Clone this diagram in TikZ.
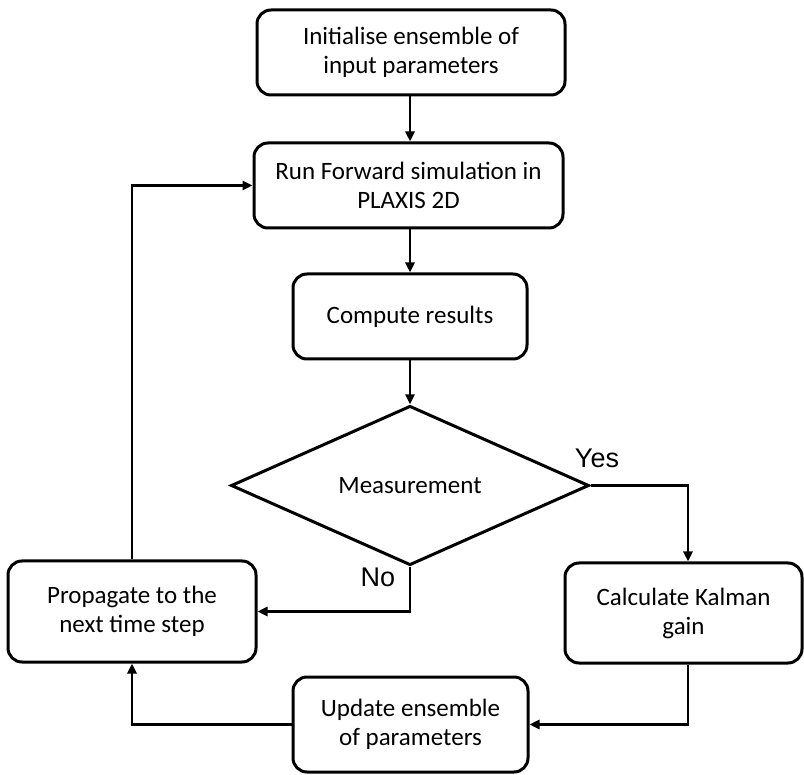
\documentclass[tikz,border=0pt]{standalone}
\usepackage{fontspec}
\setmainfont{Carlito}
\newfontfamily\labelfont{Liberation Sans}
\usetikzlibrary{arrows.meta,shapes.geometric}
\begin{document}
\begin{tikzpicture}[x=1pt,y=-1pt,
  flowbox/.style={draw,line width=3pt,rounded corners=14pt,align=center,
    font=\fontsize{25}{29}\selectfont,inner sep=0pt},
  decision/.style={draw,line width=3pt,shape=diamond,inner sep=0pt,
    font=\fontsize{25}{29}\selectfont},
  flow/.style={line width=2.8pt,-{Triangle[length=10pt,width=9pt]}},
  branch/.style={font=\labelfont\fontsize{27}{32}\selectfont}]
\useasboundingbox (0,0) rectangle (804,775);

\node[flowbox,minimum width=308pt,minimum height=85pt] (init) at (411,52.5)
  {Initialise ensemble of\\input parameters};
\node[flowbox,minimum width=309pt,minimum height=85pt] (run) at (408.5,185.5)
  {Run Forward simulation in\\PLAXIS 2D};
\node[flowbox,minimum width=234pt,minimum height=85pt] (comp) at (410,316.5)
  {Compute results};
\node[decision,minimum width=358pt,minimum height=157pt] (meas) at (410,485.5)
  {Measurement};
\node[flowbox,minimum width=248pt,minimum height=101pt] (prop) at (132,611.5)
  {Propagate to the\\next time step};
\node[flowbox,minimum width=237pt,minimum height=100pt] (kal) at (683.5,613)
  {Calculate Kalman\\gain};
\node[flowbox,minimum width=235pt,minimum height=95pt] (upd) at (410.5,724.5)
  {Update ensemble\\of parameters};

\node[branch] (yes) at (597,458) {Yes};
\node[branch] (no) at (378,577) {No};

\draw[flow] (init.south -| comp.north) -- (run.north -| comp.north);
\draw[flow] (run.south -| comp.north) -- (comp.north);
\draw[flow] (comp.south) -- (meas.north);
\draw[flow] (meas.east) -| ([xshift=4.5pt]kal.north);
\draw[flow] (meas.south) |- (prop.east);
\draw[flow] ([xshift=4.5pt]kal.south) |- (upd.east);
\draw[flow] (upd.west) -| (prop.south);
\draw[flow] (prop.north) |- (run.west);
\end{tikzpicture}
\end{document}
